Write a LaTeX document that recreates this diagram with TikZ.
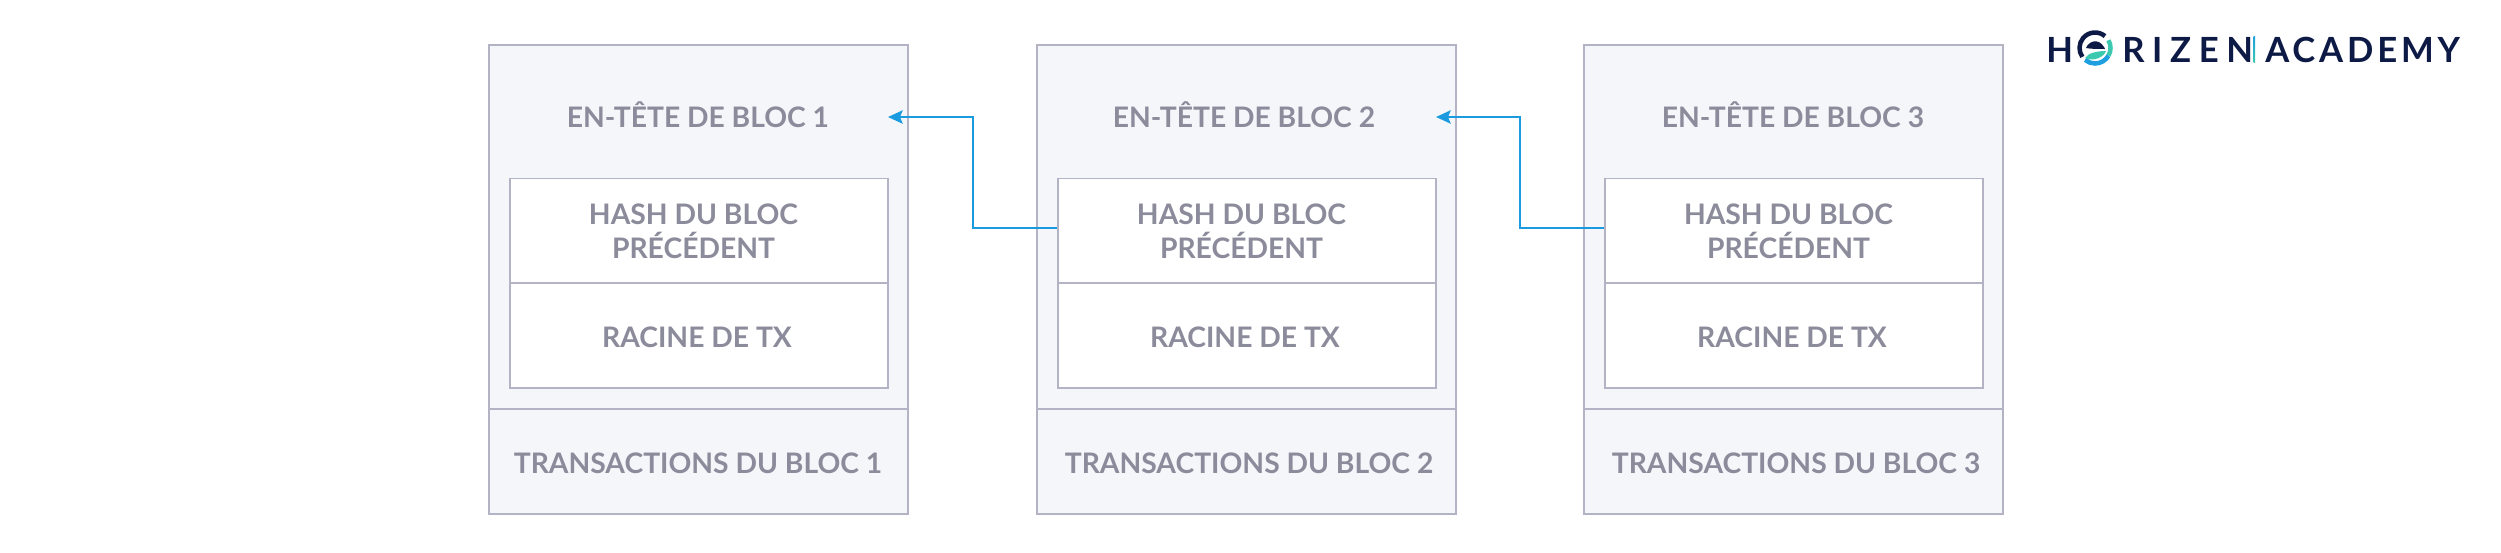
\documentclass[tikz,border=0pt]{standalone}
\usepackage{fontspec}
\usetikzlibrary{arrows.meta,positioning}
\setmainfont{Lato}
\newfontfamily\logofont[LetterSpace=22]{Lato}
\newfontfamily\logofontb[LetterSpace=11]{Lato}
\definecolor{edgec}{HTML}{B4B3C6}
\definecolor{fillc}{HTML}{F5F6FA}
\definecolor{textc}{HTML}{8B8B9B}
\definecolor{linkc}{HTML}{1A9BE0}
\definecolor{navy}{HTML}{0D1A45}
\definecolor{logob}{HTML}{1E9FE0}
\definecolor{logog}{HTML}{3CC9B0}
\tikzset{
 outerbox/.style={draw=edgec,fill=fillc,line width=1.5pt,minimum width=314.5pt,inner sep=0pt,anchor=north west},
 innerbox/.style={draw=edgec,fill=white,line width=1.4pt,minimum width=283.5pt,inner sep=0pt,anchor=north west},
 lbl/.style={text=textc,font=\fontsize{21.2}{25.3}\selectfont\bfseries,align=center,inner sep=0pt},
 link/.style={draw=linkc,line width=1.4pt,-{Stealth[length=11pt,width=10pt,inset=2pt]}},
 logotxt/.style={text=navy,inner sep=0pt,anchor=base west},
 x=0.75pt,y=-0.75pt
}
\begin{document}
\begin{tikzpicture}
\useasboundingbox (0,0) rectangle (2501,553);
% block geometry in reference pixels
\foreach \n/\x/\hx/\tx in {1/488/698/698,2/1036/1244/1249,3/1583/1793/1796}{
 \node[outerbox,minimum height=273pt] (head\n) at (\x,44) {};
 \node[outerbox,minimum height=78.5pt] (tx\n) at (\x,408) {};
 \node[innerbox,minimum height=78.5pt] (hash\n) at (\x+21,177.5) {};
 \node[innerbox,minimum height=78.5pt] (root\n) at (\x+21,282.5) {};
 \node[lbl] (headl\n) at (\hx,114.5) {EN-TÊTE DE BLOC \n};
 \node[lbl] (hashl\n) at (\x+205.5,231.5) {HASH DU BLOC\\PRÉCÉDENT};
 \node[lbl] (rootl\n) at (\x+209,337) {RACINE DE TX};
 \node[lbl] (txl\n) at (\tx,463) {TRANSACTIONS DU BLOC \n};
}
\coordinate (tip1) at (888,117);
\coordinate (tip2) at (1436,117);
\coordinate (bend1) at (973,117);
\coordinate (bend2) at (1520,117);
\draw[link] ([yshift=2.2pt]hash2.west) -| (bend1) -- (tip1);
\draw[link] ([yshift=2.2pt]hash3.west) -| (bend2) -- (tip2);
% logo
\node[logotxt,font=\logofont\fontsize{26}{26}\selectfont\bfseries] (logoh) at (2046,62) {H};
\node[logotxt,font=\logofont\fontsize{26}{26}\selectfont\bfseries] (logor) at (2122,62) {RIZEN};
\node[logotxt,font=\logofontb\fontsize{26}{26}\selectfont\bfseries] (logoa) at (2265,62) {ACADEMY};
\coordinate (logoc) at (2095,48);
\begin{scope}[shift={(logoc)},y=0.75pt]
 \draw[navy,line width=3.4pt] (50:15.5) arc[start angle=50,end angle=215,radius=15.5];
 \draw[logog,line width=3.4pt] (30:15.5) arc[start angle=30,end angle=-30,radius=15.5];
 \draw[logob,line width=3.4pt] (-30:15.5) arc[start angle=-30,end angle=-130,radius=15.5];
 \fill[navy] (-9,0) .. controls (-7,6) and (3,11) .. (9,1) -- (10,-1) .. controls (2,-1) and (-4,-1) .. (-9,0) -- cycle;
 \fill[logog] (-10,-10) .. controls (-7,-5) and (2,-3) .. (11,-3) .. controls (9,-9) and (-1,-14) .. (-10,-10) -- cycle;
\end{scope}
\shade[top color=logob,bottom color=logog] (2253.5,36) rectangle (2255,62);
\end{tikzpicture}
\end{document}
